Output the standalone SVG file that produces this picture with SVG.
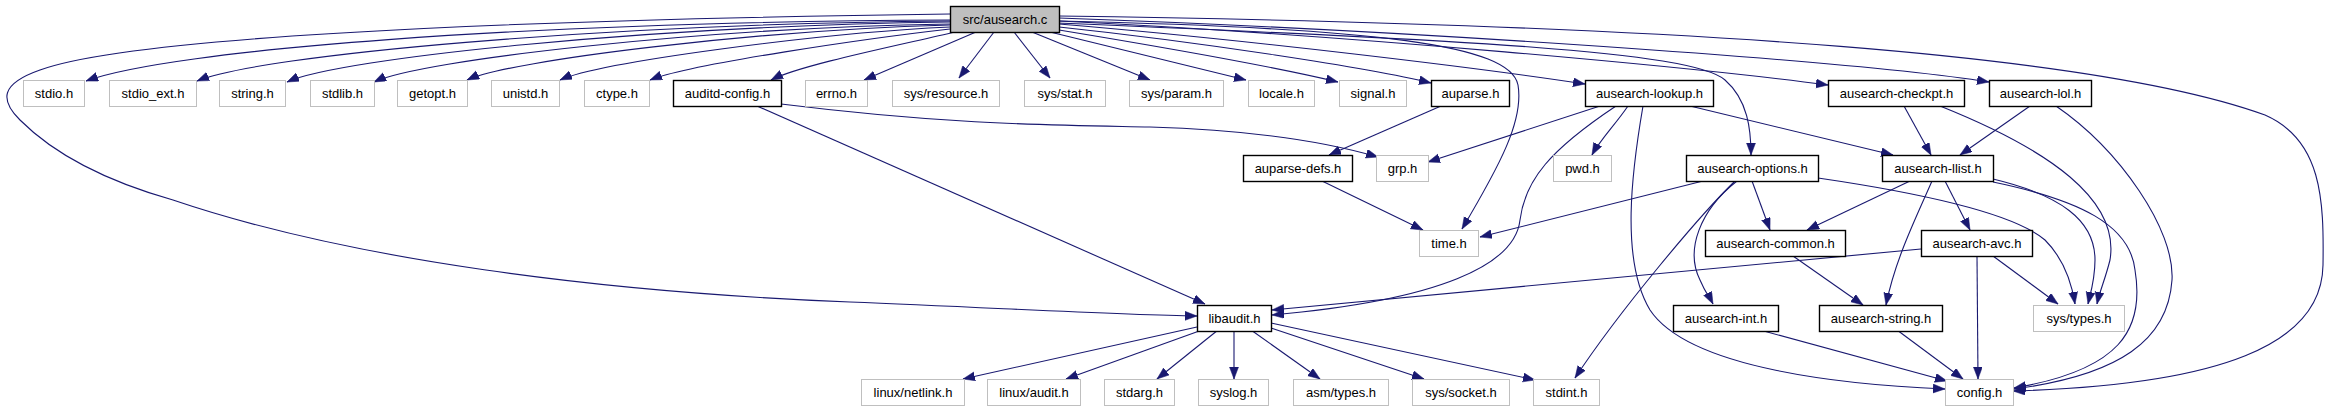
<svg xmlns="http://www.w3.org/2000/svg" width="2329" height="411" viewBox="0 0 2329 411">
<style>
.n rect{fill:#fff;stroke:#bfbfbf;stroke-width:1}
.n.p rect{stroke:#000;stroke-width:1.4}
.n.r rect{fill:#bfbfbf;stroke:#000;stroke-width:1.4}
.n text{font-family:"Liberation Sans",Arial,Helvetica,sans-serif;font-size:13px;text-anchor:middle;fill:#000}
#edges path{fill:none;stroke:#191970;stroke-width:1.1;marker-end:url(#ah)}
</style>
<defs>
<marker id="ah" markerUnits="userSpaceOnUse" markerWidth="13" markerHeight="10" refX="12" refY="4.5" orient="auto">
<path d="M0,0 L12,4.5 L0,9 z" fill="#191970" stroke="#191970" stroke-width="0.5"/>
</marker>
</defs>
<rect width="2329" height="411" fill="#fff"/>
<g id="edges">
<!-- root to row 1 -->
<path d="M950,20 C520,22 170,50 86,81"/>
<path d="M950,21 C600,24 260,55 197,81"/>
<path d="M950,22 C650,26 340,58 287,82"/>
<path d="M950,24 C700,28 420,60 374,82"/>
<path d="M950,25 C760,30 510,60 467,80"/>
<path d="M950,27 C820,33 600,62 560,80"/>
<path d="M950,29 C870,38 690,64 650,80"/>
<path d="M955,32 C900,45 800,65 771,80"/>
<path d="M976,32 L864,80"/>
<path d="M994,32 L959,78"/>
<path d="M1014,32 L1050,78"/>
<path d="M1032,32 L1150,80"/>
<path d="M1050,32 L1246,80"/>
<path d="M1059,30 C1150,45 1280,68 1338,82"/>
<path d="M1059,27 C1200,42 1370,68 1431,83"/>
<path d="M1059,24 C1250,40 1480,68 1585,84"/>
<path d="M1059,21 C1350,35 1700,68 1828,85"/>
<path d="M1059,18 C1400,30 1850,60 1989,82"/>
<!-- root long curves -->
<path d="M1059,23 C1450,40 1690,50 1725,80 C1748,100 1751,130 1751,155"/>
<path d="M1059,21 C1380,28 1510,45 1518,85 C1524,120 1500,165 1462,229"/>
<path d="M950,14 C650,18 150,30 40,70 C0,84 0,100 20,120 C60,160 120,185 173,200 C350,260 600,292 850,302 C1000,308 1120,315 1197,316"/>
<path d="M1059,16 C1700,25 2100,55 2265,115 C2322,140 2324,200 2323,265 C2322,345 2220,385 2013,391"/>
<!-- row 1 -->
<path d="M757,106 L1205,304"/>
<path d="M781,104 C950,125 1050,125 1150,127 C1250,130 1320,140 1378,157"/>
<path d="M1441,106 L1329,155"/>
<path d="M1600,106 L1428,162"/>
<path d="M1628,106 C1615,125 1600,140 1592,155"/>
<path d="M1616,106 C1550,150 1525,180 1520,220 C1515,265 1440,300 1272,315"/>
<path d="M1643,106 C1632,170 1620,260 1650,310 C1690,370 1850,385 1945,389"/>
<path d="M1690,106 L1893,155"/>
<path d="M1904,106 L1931,155"/>
<path d="M1940,106 C2050,150 2120,200 2110,260 C2105,280 2100,290 2097,304"/>
<path d="M2030,106 L1960,155"/>
<path d="M2056,106 C2120,150 2175,230 2172,280 C2168,340 2120,375 2014,389"/>
<!-- row 2 -->
<path d="M1322,181 L1423,230"/>
<path d="M1703,181 L1480,237"/>
<path d="M1752,181 L1770,230"/>
<path d="M1737,181 C1700,210 1685,250 1700,280 C1705,292 1710,298 1713,304"/>
<path d="M1735,181 C1700,215 1620,310 1575,378"/>
<path d="M1818,178 C1900,190 2010,210 2045,240 C2065,260 2072,285 2075,304"/>
<path d="M1910,181 L1807,230"/>
<path d="M1932,181 C1915,220 1895,260 1886,305"/>
<path d="M1945,181 L1970,230"/>
<path d="M1993,179 C2060,195 2095,220 2095,260 C2095,280 2090,295 2088,304"/>
<path d="M1993,182 C2080,200 2130,225 2135,270 C2145,330 2120,370 2014,388"/>
<!-- row 3 -->
<path d="M1793,256 L1863,305"/>
<path d="M1921,249 L1272,310"/>
<path d="M1977,256 L1978,379"/>
<path d="M1993,256 L2058,304"/>
<!-- row 4 -->
<path d="M1197,327 L963,379"/>
<path d="M1202,330 L1066,379"/>
<path d="M1218,330 L1157,379"/>
<path d="M1234,330 L1234,379"/>
<path d="M1251,330 L1320,379"/>
<path d="M1271,328 L1424,379"/>
<path d="M1271,323 L1535,380"/>
<path d="M1760,330 L1947,381"/>
<path d="M1897,330 L1963,379"/>
</g>
<g id="n-root" class="n r"><rect x="950.5" y="6.5" width="109" height="26"/><text x="1005" y="24">src/ausearch.c</text></g>
<g id="n-stdio" class="n"><rect x="23.5" y="80.5" width="61" height="26"/><text x="54" y="98">stdio.h</text></g>
<g id="n-stdio_ext" class="n"><rect x="109.5" y="80.5" width="87" height="26"/><text x="153" y="98">stdio_ext.h</text></g>
<g id="n-string" class="n"><rect x="219.5" y="80.5" width="66" height="26"/><text x="252.5" y="98">string.h</text></g>
<g id="n-stdlib" class="n"><rect x="310.5" y="80.5" width="64" height="26"/><text x="342.5" y="98">stdlib.h</text></g>
<g id="n-getopt" class="n"><rect x="397.5" y="80.5" width="70" height="26"/><text x="432.5" y="98">getopt.h</text></g>
<g id="n-unistd" class="n"><rect x="491.5" y="80.5" width="68" height="26"/><text x="525.5" y="98">unistd.h</text></g>
<g id="n-ctype" class="n"><rect x="584.5" y="80.5" width="65" height="26"/><text x="617" y="98">ctype.h</text></g>
<g id="n-auditd-config" class="n p"><rect x="673.5" y="80.5" width="108" height="26"/><text x="727.5" y="98">auditd-config.h</text></g>
<g id="n-errno" class="n"><rect x="805.5" y="80.5" width="62" height="26"/><text x="836.5" y="98">errno.h</text></g>
<g id="n-sys-resource" class="n"><rect x="892.5" y="80.5" width="107" height="26"/><text x="946" y="98">sys/resource.h</text></g>
<g id="n-sys-stat" class="n"><rect x="1024.5" y="80.5" width="81" height="26"/><text x="1065" y="98">sys/stat.h</text></g>
<g id="n-sys-param" class="n"><rect x="1129.5" y="80.5" width="94" height="26"/><text x="1176.5" y="98">sys/param.h</text></g>
<g id="n-locale" class="n"><rect x="1248.5" y="80.5" width="66" height="26"/><text x="1281.5" y="98">locale.h</text></g>
<g id="n-signal" class="n"><rect x="1339.5" y="80.5" width="67" height="26"/><text x="1373" y="98">signal.h</text></g>
<g id="n-auparse" class="n p"><rect x="1431.5" y="80.5" width="78" height="26"/><text x="1470.5" y="98">auparse.h</text></g>
<g id="n-lookup" class="n p"><rect x="1585.5" y="80.5" width="128" height="26"/><text x="1649.5" y="98">ausearch-lookup.h</text></g>
<g id="n-checkpt" class="n p"><rect x="1828.5" y="80.5" width="136" height="26"/><text x="1896.5" y="98">ausearch-checkpt.h</text></g>
<g id="n-lol" class="n p"><rect x="1989.5" y="80.5" width="102" height="26"/><text x="2040.5" y="98">ausearch-lol.h</text></g>
<g id="n-auparse-defs" class="n p"><rect x="1243.5" y="155.5" width="109" height="26"/><text x="1298" y="173">auparse-defs.h</text></g>
<g id="n-grp" class="n"><rect x="1376.5" y="155.5" width="52" height="26"/><text x="1402.5" y="173">grp.h</text></g>
<g id="n-pwd" class="n"><rect x="1553.5" y="155.5" width="58" height="26"/><text x="1582.5" y="173">pwd.h</text></g>
<g id="n-options" class="n p"><rect x="1686.5" y="155.5" width="132" height="26"/><text x="1752.5" y="173">ausearch-options.h</text></g>
<g id="n-llist" class="n p"><rect x="1882.5" y="155.5" width="111" height="26"/><text x="1938" y="173">ausearch-llist.h</text></g>
<g id="n-time" class="n"><rect x="1419.5" y="230.5" width="59" height="26"/><text x="1449" y="248">time.h</text></g>
<g id="n-common" class="n p"><rect x="1705.5" y="230.5" width="140" height="26"/><text x="1775.5" y="248">ausearch-common.h</text></g>
<g id="n-avc" class="n p"><rect x="1921.5" y="230.5" width="111" height="26"/><text x="1977" y="248">ausearch-avc.h</text></g>
<g id="n-libaudit" class="n p"><rect x="1197.5" y="305.5" width="74" height="26"/><text x="1234.5" y="323">libaudit.h</text></g>
<g id="n-int" class="n p"><rect x="1673.5" y="305.5" width="105" height="26"/><text x="1726" y="323">ausearch-int.h</text></g>
<g id="n-string2" class="n p"><rect x="1819.5" y="305.5" width="123" height="26"/><text x="1881" y="323">ausearch-string.h</text></g>
<g id="n-sys-types" class="n"><rect x="2033.5" y="305.5" width="91" height="26"/><text x="2079" y="323">sys/types.h</text></g>
<g id="n-netlink" class="n"><rect x="861.5" y="379.5" width="103" height="26"/><text x="913" y="397">linux/netlink.h</text></g>
<g id="n-linux-audit" class="n"><rect x="987.5" y="379.5" width="93" height="26"/><text x="1034" y="397">linux/audit.h</text></g>
<g id="n-stdarg" class="n"><rect x="1104.5" y="379.5" width="70" height="26"/><text x="1139.5" y="397">stdarg.h</text></g>
<g id="n-syslog" class="n"><rect x="1198.5" y="379.5" width="70" height="26"/><text x="1233.5" y="397">syslog.h</text></g>
<g id="n-asm-types" class="n"><rect x="1293.5" y="379.5" width="95" height="26"/><text x="1341" y="397">asm/types.h</text></g>
<g id="n-sys-socket" class="n"><rect x="1412.5" y="379.5" width="97" height="26"/><text x="1461" y="397">sys/socket.h</text></g>
<g id="n-stdint" class="n"><rect x="1533.5" y="379.5" width="66" height="26"/><text x="1566.5" y="397">stdint.h</text></g>
<g id="n-config" class="n"><rect x="1945.5" y="379.5" width="68" height="26"/><text x="1979.5" y="397">config.h</text></g>
</svg>
